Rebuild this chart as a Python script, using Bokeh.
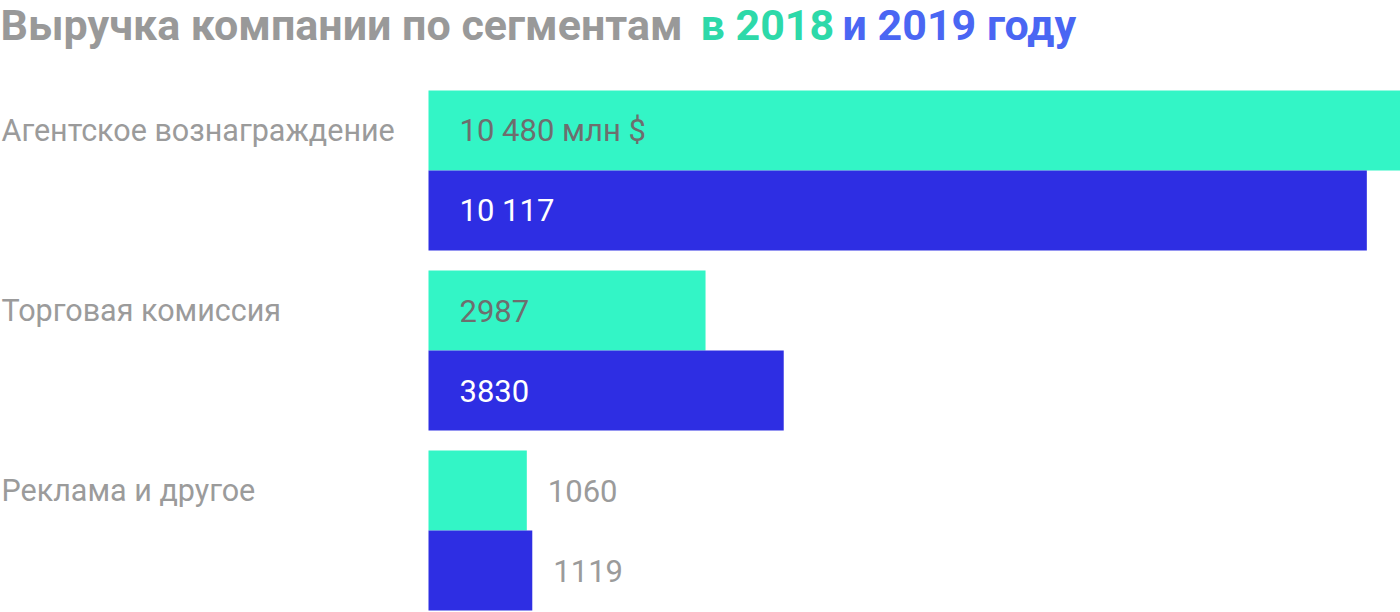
from bokeh.plotting import figure
from bokeh.models import Range1d, ColumnDataSource, Label
from bokeh.embed import file_html
from bokeh.resources import INLINE
from bokeh.core.properties import value

# ---- data ----
categories = ["Агентское вознаграждение", "Торговая комиссия", "Реклама и другое"]
years = ["2018", "2019"]
values_2018 = [10480, 2987, 1060]
values_2019 = [10117, 3830, 1119]
value_labels_2018 = ["10 480 млн $", "2987", "1060"]
value_labels_2019 = ["10 117", "3830", "1119"]
title_parts = ["Выручка компании по сегментам", "в 2018", "и 2019 году"]

# ---- styles / layout ----
W, H = 1400, 612
LEFT_PX, TOP_PX, BOTTOM_PX = 428, 90, 2
BAR_PX, GAP_UNITS = 80, 0.25
GREEN = "#33f5c6"
BLUE = "#2e2ee3"
TITLE_GRAY = "#999999"
TITLE_GREEN = "#2dd9a9"
TITLE_BLUE = "#4a66f3"
LABEL_GRAY = "#9b9b9b"
FONT = "Roboto"
FS = "31px"
CAT_FS = "30.5px"

xmax = max(values_2018 + values_2019)
px_per_unit = (W - LEFT_PX) / xmax
x_range = Range1d(-LEFT_PX / px_per_unit, xmax)

group_span = len(years) + GAP_UNITS
bottom_units = -(len(categories) - 1) * group_span - len(years)
y_range = Range1d(bottom_units - BOTTOM_PX / BAR_PX, TOP_PX / BAR_PX)

ys, vals, colors, labels, lx, loff, lcol = [], [], [], [], [], [], []
cat_y = []
for i, c in enumerate(categories):
    series = ((values_2018[i], value_labels_2018[i], GREEN, "#6e6e6e"),
              (values_2019[i], value_labels_2019[i], BLUE, "#ffffff"))
    for j, (v, lab, col, incol) in enumerate(series):
        yc = -(i * group_span + j + 0.5)
        if j == 0:
            cat_y.append(yc)
        ys.append(yc)
        vals.append(v)
        colors.append(col)
        labels.append(lab)
        inside = v >= 2000
        lx.append(0 if inside else v)
        loff.append(31 if inside else 21)
        lcol.append(incol if inside else LABEL_GRAY)

src = ColumnDataSource(dict(y=ys, value=vals, color=colors, label=labels,
                            lx=lx, loff=loff, lcol=lcol))

p = figure(width=W, height=H, x_range=x_range, y_range=y_range,
           x_axis_location=None, y_axis_location=None, min_border=0,
           outline_line_color=None, toolbar_location=None, output_backend="svg",
           background_fill_color="white", border_fill_color="white")
p.grid.visible = False

p.hbar(y="y", left=0, right="value", height=1, fill_color="color", line_color=None, source=src)

p.text(x="lx", y="y", text="label", x_offset="loff", text_color="lcol",
       text_font=value(FONT), text_font_size=FS, text_baseline="middle", text_align="left",
       source=src)

cat_src = ColumnDataSource(dict(y=cat_y, cat=categories))
p.text(x=0, y="y", text="cat", x_offset=-(LEFT_PX - 1), source=cat_src,
       text_color=LABEL_GRAY, text_font=value(FONT), text_font_size=CAT_FS,
       text_baseline="middle", text_align="left")

for txt, xpos, col in zip(title_parts, [0, 700, 842], [TITLE_GRAY, TITLE_GREEN, TITLE_BLUE]):
    p.add_layout(Label(x=xpos, y=H - 24, x_units="screen", y_units="screen", text=txt,
                       text_color=col, text_font=FONT, text_font_style="bold",
                       text_font_size="43px", text_baseline="alphabetic", text_align="left"))

open("out.html", "w").write(file_html(p, INLINE))
